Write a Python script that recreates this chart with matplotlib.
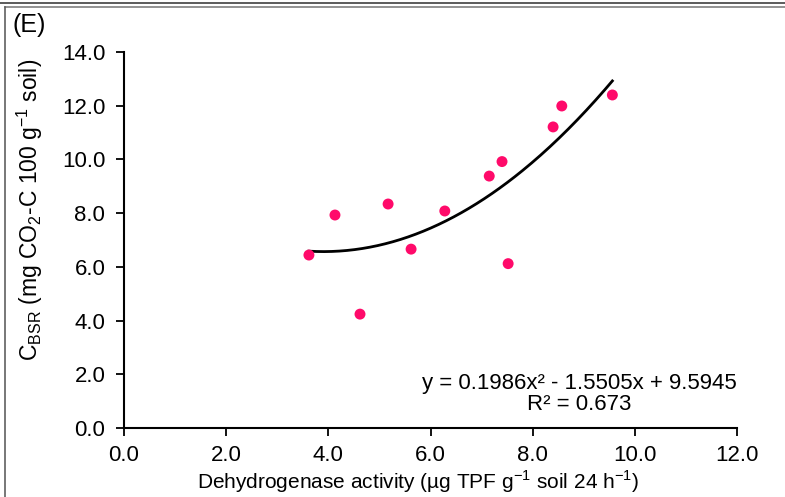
import numpy as np
import matplotlib
matplotlib.use("Agg")
import matplotlib.pyplot as plt
from matplotlib.lines import Line2D

plt.rcParams['font.family'] = ['Liberation Sans', 'DejaVu Sans']
plt.rcParams['mathtext.fontset'] = 'custom'
plt.rcParams['mathtext.rm'] = 'Liberation Sans'

# data
dha = [3.62, 4.13, 4.62, 5.17, 5.62, 6.28, 7.15, 7.40, 7.52, 8.40, 8.57, 9.56]
cbsr = [6.44, 7.93, 4.24, 8.34, 6.66, 8.08, 9.38, 9.92, 6.12, 11.21, 11.99, 12.40]
coef = [0.1986, -1.5505, 9.5945]
xticks = [0, 2, 4, 6, 8, 10, 12]
yticks = [0, 2, 4, 6, 8, 10, 12, 14]

W, H = 785, 497
fig = plt.figure(figsize=(W/100, H/100), dpi=100)
ax = fig.add_axes([124/W, (H-428)/H, (737-124)/W, (428-52)/H])

xs = np.linspace(min(dha), max(dha), 200)
ax.plot(xs, np.polyval(coef, xs), color='black', lw=2.0, zorder=2)
ax.scatter(dha, cbsr, s=62, color='#FF0A6A', edgecolors='none', zorder=3)

ax.set_xlim(0, 12)
ax.set_ylim(0, 14)
ax.set_xticks(xticks)
ax.set_yticks(yticks)
ax.set_xticklabels([f"{v:.1f}" for v in xticks])
ax.set_yticklabels([f"{v:.1f}" for v in yticks])
for s in ['top', 'right']:
    ax.spines[s].set_visible(False)
for s in ['left', 'bottom']:
    ax.spines[s].set_linewidth(1.5)
ax.tick_params(direction='out', length=5.5, width=1.3, labelsize=16)
ax.tick_params(axis='x', pad=7)
ax.tick_params(axis='y', pad=8)

ax.set_xlabel(r"Dehydrogenase activity (µg TPF g$^{\mathregular{-1}}$ soil 24 h$^{\mathregular{-1}}$)",
              fontsize=15)
ax.xaxis.set_label_coords((418 - 124) / (737 - 124), -(482 - 428) / (428 - 52))
ax.xaxis.label.set_va('center')
ax.set_ylabel(r"C$_{\mathregular{BSR}}$ (mg CO$_{\mathregular{2}}$-C 100 g$^{\mathregular{-1}}$ soil)",
              fontsize=16.5)
ax.yaxis.set_label_coords(-(124 - 30) / (737 - 124), (428 - 210) / (428 - 52))
ax.yaxis.label.set_va('center')

fig.text(579/W, 1-383/H, "y = 0.1986x² - 1.5505x + 9.5945", ha='center', va='center', fontsize=16)
fig.text(579/W, 1-405/H, "R² = 0.673", ha='center', va='center', fontsize=16)
fig.text(12/W, 1-25/H, "(E)", ha='left', va='center', fontsize=18)

# frame lines
fig.add_artist(Line2D([0, 1], [1-2.5/H, 1-2.5/H], color='#404040', lw=1.2, transform=fig.transFigure))
fig.add_artist(Line2D([4.5/W, 1], [1-6.5/H, 1-6.5/H], color='#808080', lw=1.2, transform=fig.transFigure))
fig.add_artist(Line2D([4.5/W, 4.5/W], [0, 1-6.5/H], color='#606060', lw=1.2, transform=fig.transFigure))

fig.savefig("out.png", dpi=100)
